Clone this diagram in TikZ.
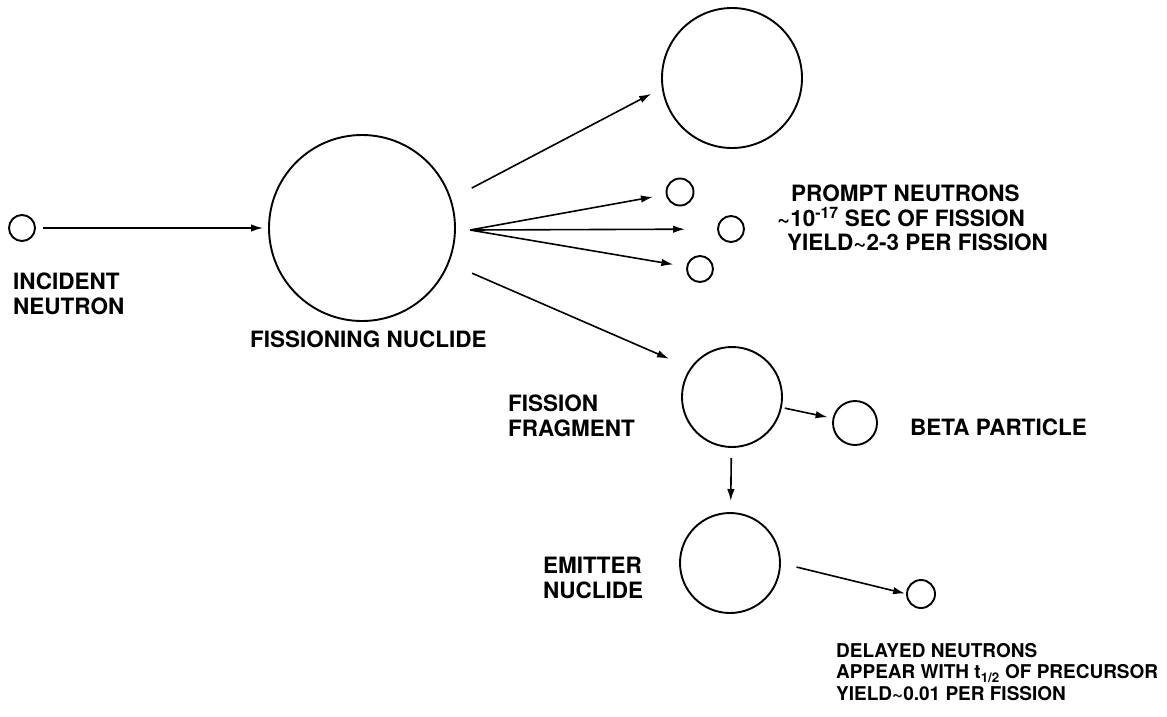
\documentclass[tikz,border=0pt]{standalone}
\usepackage{fontspec}
\setmainfont{TeX Gyre Heros}
\usetikzlibrary{arrows.meta}
\tikzset{
  ptcl/.style={circle,draw,line width=1.9pt,inner sep=0pt,outer sep=0pt,minimum size=#1},
  arr/.style={line width=1.6pt,-{Latex[length=12pt,width=7.5pt]}},
  lbl/.style={inner sep=0pt,anchor=north west,align=left,font=\bfseries\fontsize{22.5}{24.5}\selectfont},
  smalllbl/.style={lbl,font=\bfseries\fontsize{19}{21.5}\selectfont}
}
\begin{document}
\begin{tikzpicture}[x=1pt,y=-1pt]
\useasboundingbox (0,0) rectangle (1167,716);
% particles
\node[ptcl=26pt] (inc) at (22,228) {};
\node[ptcl=186pt] (fis) at (362,228) {};
\node[ptcl=140pt] (frA) at (732,78) {};
\node[ptcl=27pt] (p1) at (680,192) {};
\node[ptcl=26pt] (p2) at (731,229) {};
\node[ptcl=26pt] (p3) at (700,269) {};
\node[ptcl=100pt] (frag) at (732,397) {};
\node[ptcl=44pt] (beta) at (855,423) {};
\node[ptcl=100pt] (emit) at (730,563) {};
\node[ptcl=28pt] (dly) at (921,594) {};
\coordinate (fan) at ([xshift=15pt,yshift=-2pt]fis.east);
% arrows
\draw[arr,shorten <=8pt,shorten >=6pt] (inc) -- (fis);
\draw[arr,shorten <=24pt,shorten >=13pt] (fis.18) -- (frA.188);
\draw[arr,shorten >=14pt] (fan) -- (p1);
\draw[arr,shorten >=33pt] (fan) -- (p2);
\draw[arr,shorten >=14pt] (fan) -- (p3);
\draw[arr,shorten <=26pt,shorten >=24pt] (fis.-22.5) -- (frag.145);
\draw[arr,shorten <=4pt,shorten >=6pt] (frag) -- (beta);
\draw[arr,shorten <=11pt,shorten >=12pt] (frag) -- (emit);
\draw[arr,shorten <=17pt,shorten >=2pt] (emit.east) -- (dly.west);
% labels
\node[lbl] (incl) at (13,273) {INCIDENT\\NEUTRON};
\node[lbl] (fisl) at (250,331) {FISSIONING NUCLIDE};
\node[lbl] (prl) at (777,185) {\hspace*{14pt}PROMPT NEUTRONS\\\textasciitilde10\textsuperscript{-17} SEC OF FISSION\\\hspace*{10pt}YIELD\textasciitilde2-3 PER FISSION};
\node[lbl] (fragl) at (508,395) {FISSION\\FRAGMENT};
\node[lbl] (betal) at (910,419) {BETA PARTICLE};
\node[lbl] (emitl) at (543,557) {EMITTER\\NUCLIDE};
\node[smalllbl] (dlyl) at (836,643) {DELAYED NEUTRONS\\APPEAR WITH t\textsubscript{1/2} OF PRECURSOR\\YIELD\textasciitilde0.01 PER FISSION};
\end{tikzpicture}
\end{document}
